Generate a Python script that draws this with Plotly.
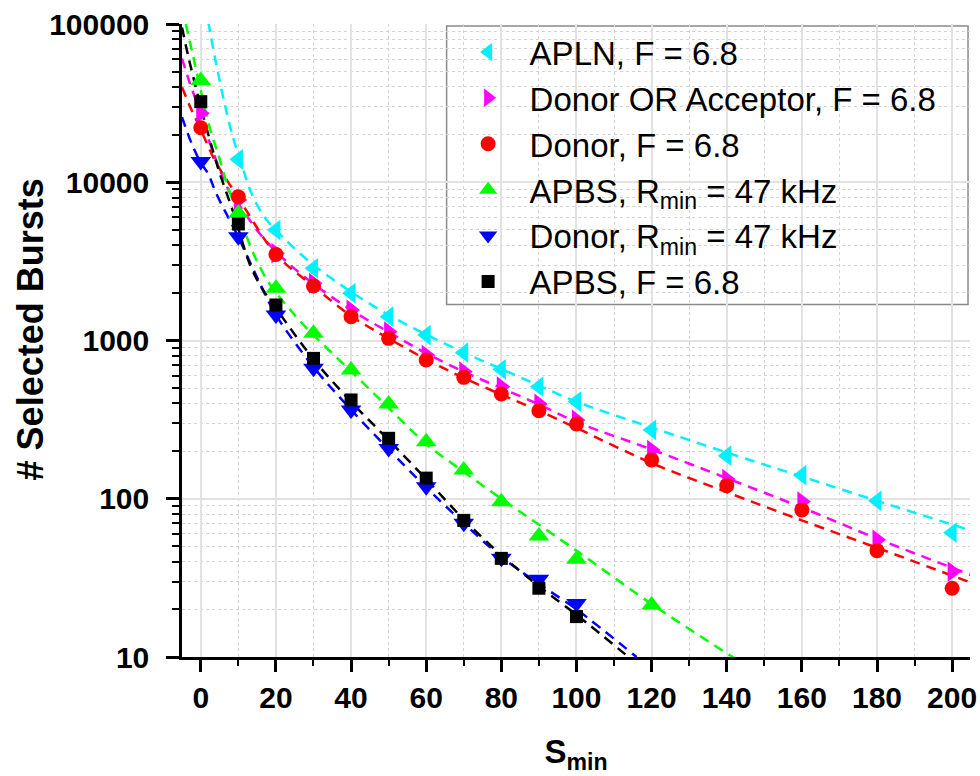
import plotly.graph_objects as go

# ---- measured burst counts vs. minimum burst size S_min ----
s_apln = [10, 20, 30, 40, 50, 60, 70, 80, 90, 100, 120, 140, 160, 180, 200]
n_apln = [13950, 4990, 2860, 1990, 1415, 1083, 838, 657, 511, 411, 272, 187, 141, 97, 61]

s_long = [0, 10, 20, 30, 40, 50, 60, 70, 80, 90, 100, 120, 140, 160, 180, 200]
n_donor_or_acceptor = [27300, 7730, 3560, 2300, 1560, 1137, 809, 635, 511, 397, 315, 203, 133, 96, 55, 34.6]
n_donor_f = [22100, 8100, 3500, 2210, 1415, 1032, 753, 585, 459, 360, 297, 176, 121, 85, 47, 27.2]

s_apbs_r = [0, 10, 20, 30, 40, 50, 60, 70, 80, 90, 100, 120]
n_apbs_r = [44000, 6370, 2140, 1110, 651, 397, 229, 152, 95.8, 58.2, 41.4, 21.3]

s_short = [0, 10, 20, 30, 40, 50, 60, 70, 80, 90, 100]
n_donor_r = [13500, 4530, 1450, 667, 364, 208, 119, 70, 42, 31, 21.8]
n_apbs_f = [32300, 5450, 1676, 771, 421, 241, 135, 73, 42, 27.2, 18]

# ---- fitted decay curves (dashed) ----
fit_s_apln = [2.0, 2.64, 4, 6.33, 8.5, 11.2, 13.4, 17, 22.6, 30, 40, 50, 60, 70, 80, 90, 100, 120, 140, 160, 180, 205]
fit_n_apln = [103000, 85000, 57500, 31500, 19500, 12250, 8600, 6000, 4315, 3000, 2030, 1450, 1090, 840, 660, 520, 410, 282, 196, 138, 97, 63]

fit_s_doa = [-5, -2.9, 0, 2.5, 5.46, 7.65, 10, 15.6, 20, 24.4, 30, 40, 50, 60, 70, 80, 90, 100, 120, 140, 160, 180, 205]
fit_n_doa = [60500, 42200, 27000, 17500, 11400, 8700, 7300, 4760, 3650, 2920, 2280, 1560, 1130, 830, 635, 500, 395, 305, 205, 135, 88, 56, 33]

fit_s_donor_f = [-5, -2.45, 0, 3.7, 7.2, 10, 20, 30, 40, 50, 60, 70, 80, 90, 100, 120, 140, 160, 180, 205]
fit_n_donor_f = [39800, 28600, 21500, 13800, 10100, 8000, 3500, 2200, 1430, 1030, 760, 580, 455, 360, 280, 168, 110, 73, 49, 29.5]

fit_s_apbs_r = [-4, -2, 0, 2.8, 4.57, 7.2, 10, 14, 18.2, 25, 30, 40, 50, 60, 70, 80, 100, 120, 143]
fit_n_apbs_r = [100000, 62100, 38000, 20400, 15200, 9380, 6300, 3550, 2300, 1450, 1080, 640, 375, 222, 148, 100, 47, 21.6, 9.5]

fit_s_donor_r = [-5, -2.45, 0, 1.9, 4.1, 10, 15, 20, 30, 40, 50, 60, 70, 80, 90, 100, 116]
fit_n_donor_r = [25800, 17600, 13300, 11400, 8500, 4500, 2500, 1450, 680, 365, 205, 118, 70, 43, 29, 20, 10]

fit_s_apbs_f = [-5, -3.3, 0, 4.5, 8.7, 12.9, 16, 20, 30, 40, 50, 60, 70, 80, 90, 100, 115]
fit_n_apbs_f = [95000, 62000, 30000, 12500, 6400, 3100, 2190, 1600, 760, 410, 235, 133, 74, 44, 28, 18.5, 9.5]

x_ticks = [0, 20, 40, 60, 80, 100, 120, 140, 160, 180, 200]
x_minor = [10, 30, 50, 70, 90, 110, 130, 150, 170, 190]
y_ticks = [10, 100, 1000, 10000, 100000]
y_ticktext = ["10", "100", "1000", "10000", "100000"]
y_minor = [k * 10 ** d for d in range(1, 5) for k in range(2, 10)]

CYAN, MAGENTA, RED, GREEN, BLUE, BLACK = "#00f0ff", "#ff00ff", "#ff0000", "#00ff00", "#0000ff", "#000000"
FONT = "Liberation Sans, Arial, sans-serif"

fig = go.Figure()

fits = [
    (fit_s_apln, fit_n_apln, CYAN),
    (fit_s_doa, fit_n_doa, MAGENTA),
    (fit_s_donor_f, fit_n_donor_f, RED),
    (fit_s_apbs_r, fit_n_apbs_r, GREEN),
    (fit_s_donor_r, fit_n_donor_r, BLUE),
    (fit_s_apbs_f, fit_n_apbs_f, BLACK),
]
for xs, ys, col in fits:
    fig.add_trace(go.Scatter(
        x=xs, y=ys, mode="lines", showlegend=False, hoverinfo="skip",
        line=dict(color=col, width=2.5, dash="10px,7px", shape="spline", smoothing=0.9),
    ))

series = [
    ("APLN, F = 6.8", s_apln, n_apln, CYAN, "triangle-left", 18),
    ("Donor OR Acceptor, F = 6.8", s_long, n_donor_or_acceptor, MAGENTA, "triangle-right", 18),
    ("Donor, F = 6.8", s_long, n_donor_f, RED, "circle", 15),
    ("APBS, R<sub>min</sub> = 47 kHz", s_apbs_r, n_apbs_r, GREEN, "triangle-up", 18),
    ("Donor, R<sub>min</sub> = 47 kHz", s_short, n_donor_r, BLUE, "triangle-down", 18),
    ("APBS, F = 6.8", s_short, n_apbs_f, BLACK, "square", 13),
]
for name, xs, ys, col, sym, size in series:
    fig.add_trace(go.Scatter(
        x=xs, y=ys, mode="markers", name=name,
        marker=dict(color=col, symbol=sym, size=size, line=dict(width=0)),
    ))

tick_font = dict(family=FONT, size=30, color="black", weight="bold")

fig.update_layout(
    width=980, height=776,
    margin=dict(l=182, r=3, t=24, b=119),
    paper_bgcolor="white", plot_bgcolor="white",
    font=dict(family=FONT, color="black"),
    legend=dict(
        x=0.3358, y=1.0, xanchor="left", yanchor="top",
        bgcolor="rgba(0,0,0,0)", borderwidth=0,
        font=dict(family=FONT, size=33, color="black"),
        itemwidth=73,
    ),
    shapes=[dict(
        type="rect", xref="paper", yref="paper", layer="between",
        x0=0.3358, x1=0.9975, y0=0.557, y1=0.9968,
        fillcolor="white", line=dict(color="#8a8a8a", width=1.5),
    )],
    xaxis=dict(
        range=[-5, 204.75], tickmode="array", tickvals=x_ticks,
        ticks="outside", ticklen=12, tickwidth=2.5, tickcolor="black",
        showline=True, linecolor="black", linewidth=2.5, zeroline=False,
        showgrid=True, gridcolor="#e2e2e2", gridwidth=1.5,
        tickfont=tick_font, ticklabeloverflow="allow",
        minor=dict(tickmode="array", tickvals=x_minor, ticks="outside", ticklen=6,
                   tickwidth=2, tickcolor="black", showgrid=True,
                   gridcolor="#d4d4d4", gridwidth=1, griddash="dot"),
        title=dict(text="S<sub>min</sub>", standoff=28,
                   font=dict(family=FONT, size=33, color="black", weight="bold")),
    ),
    yaxis=dict(
        type="log", range=[1, 5], tickmode="array", tickvals=y_ticks, ticktext=y_ticktext,
        ticks="outside", ticklen=13, tickwidth=2.5, tickcolor="black",
        showline=True, linecolor="black", linewidth=2.5, zeroline=False,
        showgrid=True, gridcolor="#e2e2e2", gridwidth=1.5,
        tickfont=tick_font, ticklabelstandoff=11,
        minor=dict(tickmode="array", tickvals=y_minor, ticks="outside", ticklen=7,
                   tickwidth=2, tickcolor="black", showgrid=True,
                   gridcolor="#d4d4d4", gridwidth=1, griddash="dot"),
    ),
    annotations=[dict(
        text="# Selected Bursts", textangle=-90, xref="paper", yref="paper",
        x=-0.1925, y=0.518, xanchor="center", yanchor="middle", showarrow=False,
        font=dict(family=FONT, size=36, color="black", weight="bold"),
    )],
)

fig.write_html("out.html")
